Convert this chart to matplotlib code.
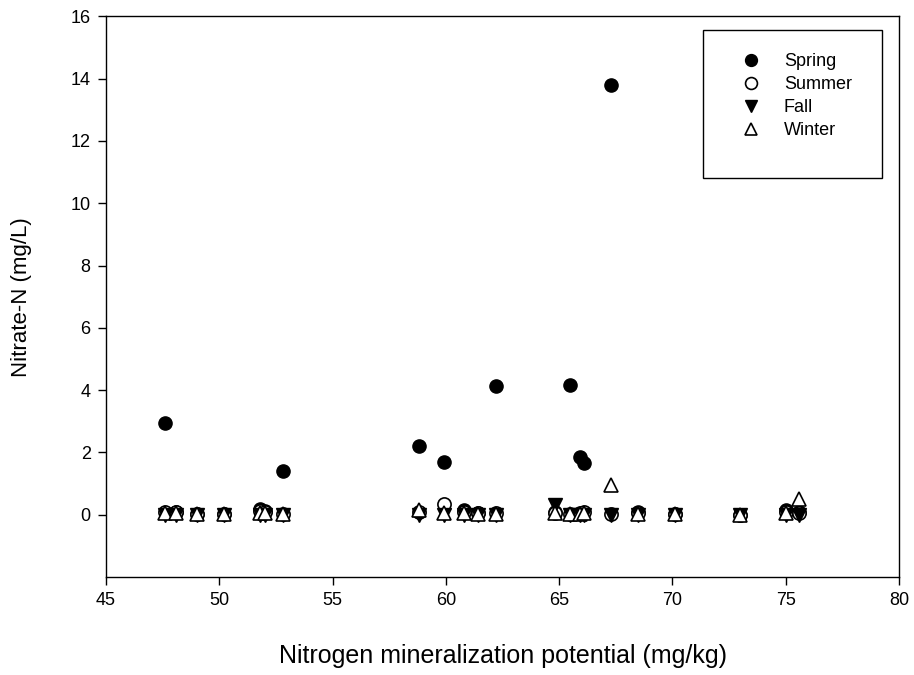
import matplotlib
matplotlib.use('Agg')
import matplotlib.pyplot as plt
from matplotlib.patches import Rectangle

plt.rcParams['font.family'] = ['Liberation Sans', 'DejaVu Sans']

# site nitrogen mineralization potential (mg/kg)
nmp = [47.6, 48.1, 49.0, 50.2, 51.8, 52.0, 52.8, 58.8, 59.9, 60.8, 61.4,
       62.2, 64.8, 65.5, 65.9, 66.1, 67.3, 68.5, 70.1, 73.0, 75.0, 75.6]

spring = [2.93, 0.08, 0.02, 0.02, 0.2, 0.12, 1.4, 2.22, 1.68, 0.15, 0.05,
          4.12, 0.1, 4.18, 1.87, 1.67, 13.8, 0.08, 0.03, 0.0, 0.15, 0.08]
summer = [0.1, 0.08, 0.02, 0.02, 0.12, 0.08, 0.03, 0.1, 0.35, 0.1, 0.05,
          0.05, 0.05, 0.03, 0.05, 0.1, 0.02, 0.05, 0.03, 0.0, 0.1, 0.05]
fall = [0.0, 0.0, -0.02, -0.02, 0.0, 0.0, 0.0, -0.02, 0.0, 0.0, 0.0,
        0.0, 0.3, -0.02, 0.0, 0.0, -0.02, 0.0, 0.0, -0.02, 0.0, 0.0]
winter = [0.05, 0.05, 0.02, 0.02, 0.05, 0.05, 0.03, 0.15, 0.05, 0.05, 0.03,
          0.03, 0.05, 0.03, 0.03, 0.05, 0.95, 0.03, 0.03, 0.0, 0.05, 0.5]

fig = plt.figure(figsize=(9.14, 6.75), dpi=100)
ax = fig.add_axes([0.116, 0.145, 0.8676, 0.831])

ms = 9.5
ax.plot(nmp, spring, 'o', color='black', markersize=ms, label='Spring', linestyle='none')
ax.plot(nmp, summer, 'o', mfc='white', mec='black', mew=1.2, markersize=ms, label='Summer', linestyle='none')
ax.plot(nmp, fall, 'v', color='black', markersize=ms, label='Fall', linestyle='none')
ax.plot(nmp, winter, '^', mfc='white', mec='black', mew=1.2, markersize=ms, label='Winter', linestyle='none')

ax.set_xlim(45, 80)
ax.set_ylim(-2, 16)
ax.set_yticks(range(0, 17, 2))
ax.set_xticks(range(45, 81, 5))
ax.tick_params(direction='out', length=6, width=1, labelsize=13, pad=5,
               top=False, right=False)
for s in ax.spines.values():
    s.set_linewidth(1)

ax.set_xlabel('Nitrogen mineralization potential (mg/kg)', fontsize=18, labelpad=25)
ax.set_ylabel('Nitrate-N (mg/L)', fontsize=16, labelpad=28)

# legend box drawn as a plain rectangle, entries without frame
ax.add_patch(Rectangle((0.753, 0.711), 0.2256, 0.264, transform=ax.transAxes,
                       fill=False, edgecolor='black', linewidth=1, zorder=5))
leg = ax.legend(loc='upper left', bbox_to_anchor=(0.791, 0.934), fontsize=13,
                markerscale=0.9, frameon=False, handletextpad=0.8,
                borderpad=0, labelspacing=0.33, borderaxespad=0)

fig.savefig('out.png', dpi=100)
